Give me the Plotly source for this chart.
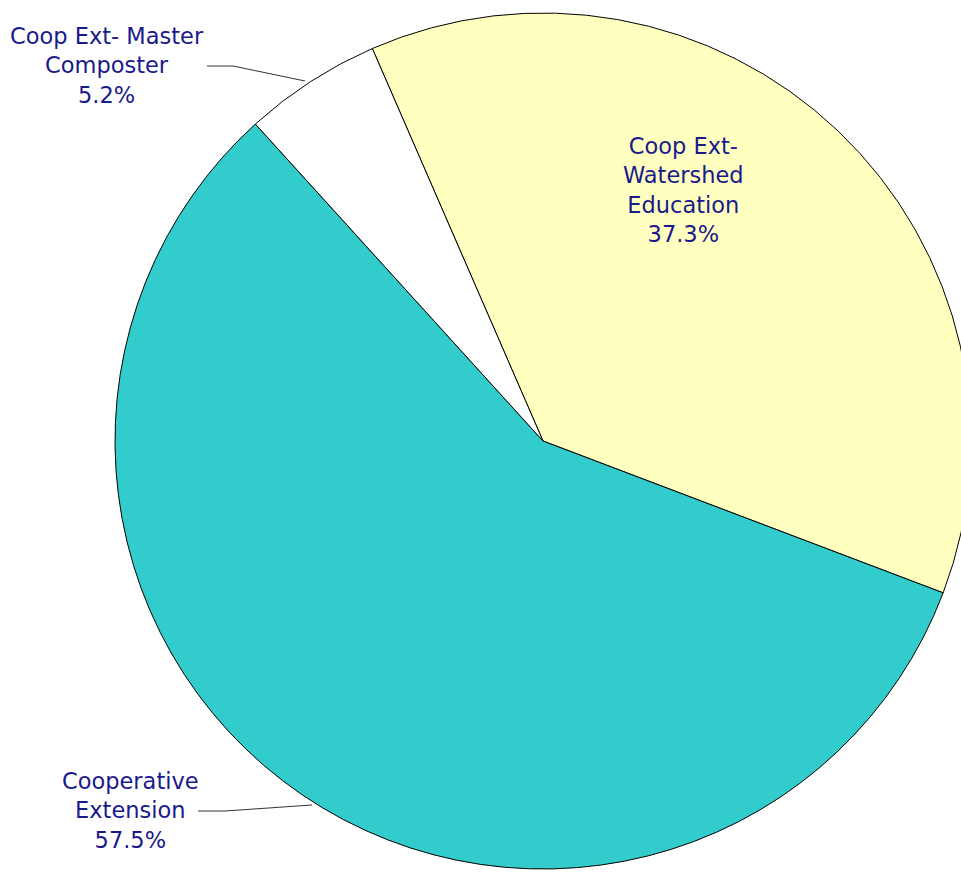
import plotly.graph_objects as go

labels = ["Coop Ext- Watershed Education", "Cooperative Extension", "Coop Ext- Master Composter"]
values = [37.3, 57.5, 5.2]
colors = ["#FFFFC0", "#33CCCC", "#FFFFFF"]
label_text = ["Coop Ext-<br>Watershed<br>Education<br>37.3%",
              "Cooperative<br>Extension<br>57.5%",
              "Coop Ext- Master<br>Composter<br>5.2%"]

W, H = 975, 875
cx, cy, r = 543, 441, 428

def px(x):
    return x / W

def py(y):
    return 1 - y / H

fig = go.Figure(go.Pie(
    labels=labels, values=values, sort=False, direction="clockwise",
    rotation=-23.5, textinfo="none", hoverinfo="label+percent",
    marker=dict(colors=colors, line=dict(color="#000000", width=1)),
    domain=dict(x=[px(cx - r), px(cx + r)], y=[py(cy + r), py(cy - r)]),
    showlegend=False,
))

font = dict(family="DejaVu Sans", size=22.5, color="#1A1A8C")
label_pos = [(683, 190), (130, 810), (107, 66)]
for t, (x, y) in zip(label_text, label_pos):
    fig.add_annotation(x=px(x), y=py(y), xref="paper", yref="paper", text=t,
                       showarrow=False, xanchor="center", yanchor="middle",
                       align="center", font=font)

leaders = [[(207, 66), (233, 66), (305, 81)], [(198, 811), (225, 811), (312, 805)]]
for pts in leaders:
    path = "M " + " L ".join(f"{px(x)},{py(y)}" for x, y in pts)
    fig.add_shape(type="path", path=path, xref="paper", yref="paper",
                  line=dict(color="#333333", width=1))

fig.update_layout(width=W, height=H, margin=dict(l=0, r=0, t=0, b=0),
                  paper_bgcolor="white", plot_bgcolor="white")

fig.write_html("out.html", config={"displayModeBar": False},
               post_script="document.body.style.margin='0';document.body.style.overflow='hidden';")
